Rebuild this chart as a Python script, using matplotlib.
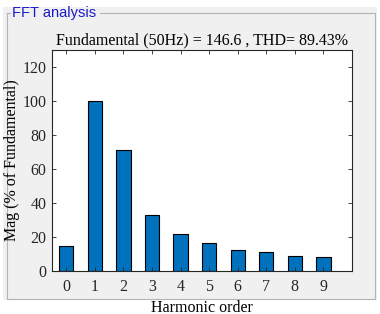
import matplotlib
matplotlib.use("Agg")
import matplotlib.pyplot as plt
from matplotlib.patches import Rectangle
from matplotlib.lines import Line2D

# harmonic spectrum
harmonics = [0, 1, 2, 3, 4, 5, 6, 7, 8, 9]
mag = [14.8, 100, 71.0, 32.7, 21.6, 16.3, 12.2, 11.4, 9.0, 8.2]
title = "Fundamental (50Hz) = 146.6 , THD= 89.43%"

W, H = 380, 314
fig = plt.figure(figsize=(W / 100, H / 100), dpi=100)
fig.patch.set_facecolor("white")

def fx(px):
    return px / W

def fy(py):
    return 1 - py / H

# gray panel background
fig.add_artist(Rectangle((fx(3), fy(300)), fx(374), 293 / H, transform=fig.transFigure,
                         facecolor="#f0f0f0", edgecolor="none", zorder=-10))
# panel border
bc = "#b4b4b4"
for xs, ys in [([7, 7], [13, 299]), ([375, 375], [13, 299]), ([7, 375], [299, 299]),
               ([7, 10], [13, 13]), ([100, 375], [13, 13])]:
    fig.add_artist(Line2D([fx(x) for x in xs], [fy(y) for y in ys], transform=fig.transFigure,
                          color=bc, lw=0.8, zorder=-5))
fig.text(fx(12), fy(13.5), "FFT analysis", color="#1a1acc", fontsize=10.5,
         family="Liberation Sans", va="center", ha="left")

ax = fig.add_axes([fx(52), fy(271), fx(300), 221 / H])
ax.bar(harmonics, mag, width=0.5, color="#0072bd", edgecolor="black", linewidth=0.8)
ax.set_xlim(-0.5, 10)
ax.set_ylim(0, 130)
ax.set_xticks(harmonics)
ax.set_yticks([0, 20, 40, 60, 80, 100, 120])
ax.tick_params(direction="in", top=True, right=True, length=3, width=0.6,
               labelsize=11.5, colors="#262626")
ax.tick_params(axis="x", pad=6)
ax.tick_params(axis="y", pad=4)
for s in ax.spines.values():
    s.set_linewidth(0.8)
    s.set_color("#262626")
for lab in ax.get_xticklabels() + ax.get_yticklabels():
    lab.set_family("Liberation Serif")
ax.set_title(title, family="Liberation Serif", fontsize=11.5, pad=4)
ax.set_xlabel("Harmonic order", family="Liberation Serif", fontsize=11.5, labelpad=3)
ax.set_ylabel("Mag (% of Fundamental)", family="Liberation Serif", fontsize=11.5, labelpad=2)

fig.savefig("out.png", dpi=100)
